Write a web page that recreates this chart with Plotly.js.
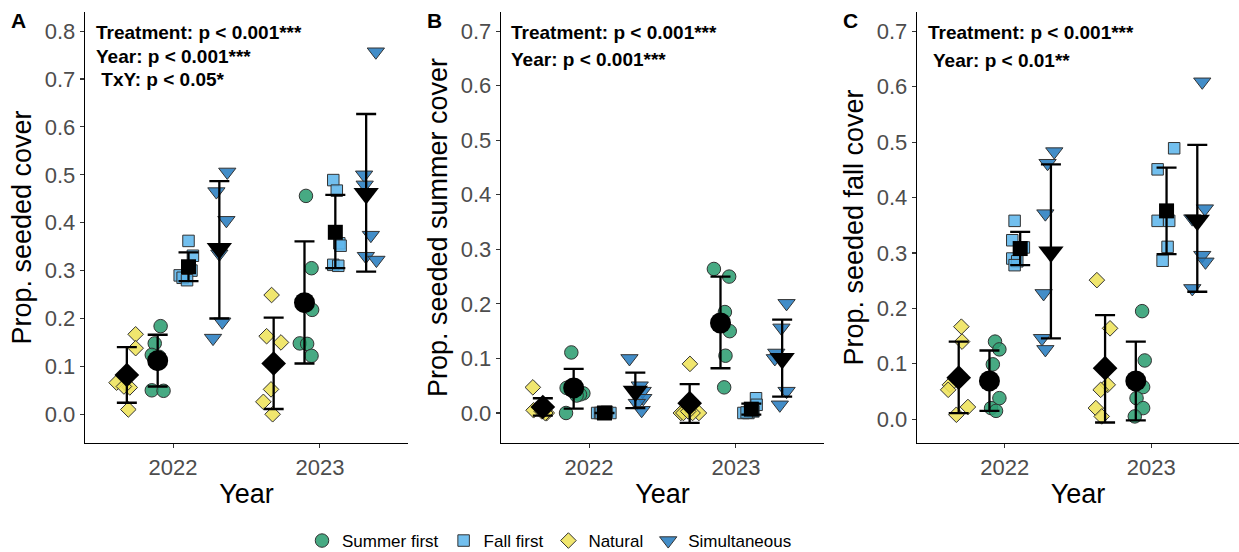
<!DOCTYPE html>
<html><head><meta charset="utf-8">
<script src="https://cdn.plot.ly/plotly-3.0.1.min.js"></script>
<style>body{margin:0;padding:0;background:#fff;} #chart{width:1239px;height:552px;}</style>
</head><body><div id="chart"></div><script>
// ---------- data ----------
const years = ["2022", "2023"];
const yearTicks = [1, 2];
const treatments = ["Natural", "Summer first", "Fall first", "Simultaneous"]; // dodge order
const legendOrder = ["Summer first", "Fall first", "Natural", "Simultaneous"];
const pointYear = [0,0,0,0,0,0, 1,1,1,1,1,1];

// Panel A: Prop. seeded cover (6 plots in 2022, then 6 in 2023)
const A_natural = [0.167,0.138,0.066,0.056,0.010,0.058, 0.249,0.163,0.150,0.052,0.026,0.000];
const A_natural_jit = [0.06,0.06,-0.07,0.02,0.01,-0.02, -0.014,-0.048,0.05,-0.018,-0.07,-0.007];
const A_summer = [0.184,0.148,0.124,0.120,0.050,0.049, 0.456,0.305,0.218,0.148,0.147,0.122];
const A_summer_jit = [0.02,-0.02,-0.04,0.01,-0.04,0.04, 0.01,0.048,0.052,-0.032,0.018,0.048];
const A_fall = [0.362,0.331,0.300,0.290,0.285,0.280, 0.489,0.467,0.357,0.352,0.312,0.310];
const A_fall_jit = [0,0.03,0.02,-0.06,-0.04,-0.01, -0.014,0.01,0.027,0.036,-0.014,0.02];
const A_simul = [0.506,0.465,0.405,0.335,0.193,0.159, 0.757,0.500,0.479,0.374,0.330,0.322];
const A_simul_jit = [0.054,-0.02,0.048,0,0.02,-0.043, 0.066,-0.014,-0.01,0.032,-0.002,0.07];
// means and error limits, treatment order [Natural, Summer first, Fall first, Simultaneous]
const A_mean_2022 = [0.082,0.112,0.308,0.346], A_mean_2023 = [0.106,0.233,0.380,0.461];
const A_lo_2022 = [0.024,0.058,0.278,0.200], A_hi_2022 = [0.140,0.166,0.338,0.487];
const A_lo_2023 = [0.011,0.106,0.305,0.298], A_hi_2023 = [0.202,0.361,0.458,0.627];

// Panel B: Prop. seeded summer cover
const B_natural = [0.047,0.005,0.003,0.000,0.000,0.010, 0.090,0.000,0.000,0.000,0.000,0.003];
const B_natural_jit = [-0.068,-0.063,-0.007,0.027,0.016,-0.018, 0.002,-0.06,0.063,-0.043,0.02,-0.01];
const B_summer = [0.111,0.046,0.036,0.034,0.032,0.000, 0.264,0.250,0.185,0.150,0.105,0.047];
const B_summer_jit = [-0.016,-0.048,0.066,0.043,0.02,-0.052, -0.045,0.059,0.03,0.063,0.034,0.025];
const B_fall = [0.000,0.000,0.000,0.000,0.000,0.002, 0.027,0.015,0.000,0.000,0.003,0.001];
const B_fall_jit = [-0.05,-0.03,0.005,0.04,-0.02,0.016, 0.032,0.036,-0.054,-0.02,0.014,-0.032];
const B_simul = [0.100,0.050,0.040,0.027,0.018,0.005, 0.201,0.156,0.110,0.100,0.040,0.015];
const B_simul_jit = [-0.04,0.03,0.05,0.054,0.01,0.043, 0.03,-0.005,-0.04,-0.05,0.03,-0.016];
const B_mean_2022 = [0.011,0.046,0.000,0.040], B_mean_2023 = [0.018,0.165,0.007,0.100];
const B_lo_2022 = [-0.005,0.008,0.000,0.009], B_hi_2022 = [0.027,0.081,0.000,0.074];
const B_lo_2023 = [-0.018,0.082,-0.003,0.030], B_hi_2023 = [0.053,0.250,0.017,0.171];

// Panel C: Prop. seeded fall cover
const C_natural = [0.167,0.140,0.062,0.053,0.022,0.008, 0.251,0.164,0.062,0.053,0.020,0.005];
const C_natural_jit = [0.018,0.023,-0.06,-0.072,0.063,-0.016, -0.056,0.034,0.018,-0.03,-0.063,-0.023];
const C_summer = [0.140,0.126,0.099,0.038,0.020,0.015, 0.195,0.106,0.058,0.038,0.020,0.005];
const C_summer_jit = [0.038,0.068,0.023,0.068,0.011,0.045, 0.043,0.061,0.05,0.005,0.05,-0.007];
const C_fall = [0.358,0.323,0.310,0.290,0.285,0.278, 0.489,0.451,0.358,0.358,0.311,0.286];
const C_fall_jit = [-0.038,-0.054,0.025,-0.054,-0.02,-0.038, 0.052,-0.061,-0.061,0.018,0.007,-0.027];
const C_simul = [0.483,0.462,0.371,0.227,0.146,0.126, 0.609,0.380,0.362,0.296,0.284,0.236];
const C_simul_jit = [0.023,-0.023,-0.038,-0.05,-0.061,-0.038, 0.034,0.052,-0.034,0.034,0.056,-0.034];
const C_mean_2022 = [0.075,0.069,0.308,0.302], C_mean_2023 = [0.092,0.069,0.376,0.359];
const C_lo_2022 = [0.011,0.015,0.278,0.146], C_hi_2022 = [0.140,0.124,0.338,0.460];
const C_lo_2023 = [-0.006,-0.002,0.298,0.230], C_hi_2023 = [0.188,0.140,0.454,0.495];

const statsA = ["Treatment: p < 0.001***", "Year: p < 0.001***", " TxY: p < 0.05*"];
const statsB = ["Treatment: p < 0.001***", "Year: p < 0.001***"];
const statsC = ["Treatment: p < 0.001***", " Year: p < 0.01**"];

// ---------- styling ----------
const dodge = {"Natural": -0.315, "Summer first": -0.105, "Fall first": 0.105, "Simultaneous": 0.315};
const fills = {"Natural": "rgba(238,226,90,0.88)", "Summer first": "rgba(46,158,114,0.88)",
               "Fall first": "rgba(95,182,236,0.88)", "Simultaneous": "rgba(40,125,192,0.88)"};
const symbols = {"Natural": "diamond", "Summer first": "circle", "Fall first": "square", "Simultaneous": "triangle-down"};
const ptSize = {"Natural": 12, "Summer first": 13.5, "Fall first": 11.5, "Simultaneous": 15};
const meanSize = {"Natural": 19, "Summer first": 21, "Fall first": 15, "Simultaneous": 22};
const FONT = "Liberation Sans, Arial, sans-serif";

const panels = [
  {key: "A", ax: "", vals: {"Natural": A_natural, "Summer first": A_summer, "Fall first": A_fall, "Simultaneous": A_simul},
   jit: {"Natural": A_natural_jit, "Summer first": A_summer_jit, "Fall first": A_fall_jit, "Simultaneous": A_simul_jit},
   mean: [A_mean_2022, A_mean_2023], lo: [A_lo_2022, A_lo_2023], hi: [A_hi_2022, A_hi_2023]},
  {key: "B", ax: "2", vals: {"Natural": B_natural, "Summer first": B_summer, "Fall first": B_fall, "Simultaneous": B_simul},
   jit: {"Natural": B_natural_jit, "Summer first": B_summer_jit, "Fall first": B_fall_jit, "Simultaneous": B_simul_jit},
   mean: [B_mean_2022, B_mean_2023], lo: [B_lo_2022, B_lo_2023], hi: [B_hi_2022, B_hi_2023]},
  {key: "C", ax: "3", vals: {"Natural": C_natural, "Summer first": C_summer, "Fall first": C_fall, "Simultaneous": C_simul},
   jit: {"Natural": C_natural_jit, "Summer first": C_summer_jit, "Fall first": C_fall_jit, "Simultaneous": C_simul_jit},
   mean: [C_mean_2022, C_mean_2023], lo: [C_lo_2022, C_lo_2023], hi: [C_hi_2022, C_hi_2023]}
];

const pointTraces = [], meanTraces = [];
panels.forEach((p, pi) => {
  treatments.forEach((t, ti) => {
    pointTraces.push({
      type: "scatter", mode: "markers", name: t,
      x: p.vals[t].map((v, i) => yearTicks[pointYear[i]] + dodge[t] + p.jit[t][i]),
      y: p.vals[t],
      xaxis: "x" + p.ax, yaxis: "y" + p.ax,
      marker: {symbol: symbols[t], size: ptSize[t], color: fills[t], line: {color: "#333333", width: 1}},
      showlegend: pi === 0, legendrank: legendOrder.indexOf(t) + 1, hoverinfo: "skip"
    });
    const m = [p.mean[0][ti], p.mean[1][ti]];
    meanTraces.push({
      type: "scatter", mode: "markers", name: t + " mean",
      x: yearTicks.map(v => v + dodge[t]), y: m,
      xaxis: "x" + p.ax, yaxis: "y" + p.ax,
      marker: {symbol: symbols[t], size: meanSize[t], color: "#000000", line: {width: 0}},
      error_y: {type: "data", symmetric: false,
        array: [p.hi[0][ti] - m[0], p.hi[1][ti] - m[1]],
        arrayminus: [m[0] - p.lo[0][ti], m[1] - p.lo[1][ti]],
        color: "#000000", thickness: 2.3, width: 10},
      showlegend: false, hoverinfo: "skip"
    });
  });
});

const W = 1239, H = 552;
const yDom = [1 - 443 / H, 1 - 12 / H];
function xAxis(dom) {
  return {domain: dom, range: [0.4, 2.6], tickvals: yearTicks, ticktext: years,
    showline: true, linecolor: "#000", linewidth: 1.3, ticks: "outside", ticklen: 4, tickcolor: "#333", tickwidth: 1.1,
    showgrid: false, zeroline: false, tickfont: {family: FONT, size: 22, color: "#4d4d4d"},
    title: {text: "Year", font: {family: FONT, size: 27, color: "#000"}, standoff: 5}};
}
function yAxis(range, title, anchor) {
  return {domain: yDom, range: range, dtick: 0.1, tick0: 0, tickformat: ".1f", anchor: anchor,
    showline: true, linecolor: "#000", linewidth: 1.3, ticks: "outside", ticklen: 4, tickcolor: "#333", tickwidth: 1.1,
    showgrid: false, zeroline: false, tickfont: {family: FONT, size: 22, color: "#4d4d4d"},
    title: {text: title, font: {family: FONT, size: 27, color: "#000"}, standoff: 5}};
}

const annotations = [];
function addStats(lines, xpx, ypxs) {
  lines.forEach((s, i) => annotations.push({xref: "paper", yref: "paper", x: xpx / W, y: 1 - ypxs[i] / H,
    xanchor: "left", yanchor: "middle", text: "<b>" + s + "</b>", showarrow: false,
    font: {family: FONT, size: 19, color: "#000"}}));
}
addStats(statsA, 94, [32, 56, 80]);
addStats(statsB, 509, [32, 59]);
addStats(statsC, 926, [32, 60]);
[["A", 18], ["B", 434], ["C", 850]].forEach(([l, xp]) => annotations.push({xref: "paper", yref: "paper",
  x: xp / W, y: 1 - 20 / H, xanchor: "center", yanchor: "middle", text: "<b>" + l + "</b>", showarrow: false,
  font: {family: FONT, size: 21, color: "#000"}}));

const layout = {
  width: W, height: H, margin: {l: 0, r: 0, t: 0, b: 0, autoexpand: false},
  paper_bgcolor: "#fff", plot_bgcolor: "#fff",
  xaxis: xAxis([85 / W, 408 / W]), yaxis: yAxis([-0.06, 0.84], "Prop. seeded cover", "x"),
  xaxis2: xAxis([501 / W, 824 / W]), yaxis2: yAxis([-0.055, 0.735], "Prop. seeded summer cover", "x2"),
  xaxis3: xAxis([917 / W, 1]), yaxis3: yAxis([-0.043, 0.735], "Prop. seeded fall cover", "x3"),
  annotations: annotations,
  showlegend: true,
  legend: {orientation: "h", x: 302 / W, xanchor: "left", y: 1 - 541 / H, yanchor: "middle",
    font: {family: FONT, size: 17, color: "#000"}, traceorder: "normal", itemsizing: "trace", bgcolor: "rgba(0,0,0,0)"}
};
layout.xaxis2.anchor = "y2"; layout.xaxis3.anchor = "y3"; layout.xaxis.anchor = "y";

Plotly.newPlot("chart", pointTraces.concat(meanTraces), layout, {staticPlot: true, displayModeBar: false});
</script></body></html>
